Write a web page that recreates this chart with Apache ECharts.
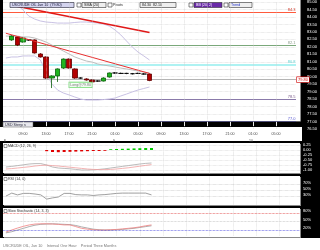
<!DOCTYPE html>
<html><head><meta charset="utf-8">
<script src="https://cdn.jsdelivr.net/npm/echarts@6/dist/echarts.min.js"></script>
<style>html,body{margin:0;padding:0;background:#000;overflow:hidden}#c{width:320px;height:250px}</style>
</head><body><div id="c"></div><script>
// ---------- data ----------
const hours=['06:00','07:00','08:00','09:00','10:00','11:00','12:00','13:00','14:00','15:00','16:00','17:00','18:00','19:00','20:00','21:00','22:00','23:00','00:00','01:00','02:00','03:00','04:00','05:00','06:00','07:00','08:00','09:00','10:00','11:00','12:00','13:00','14:00','15:00','16:00','17:00','18:00','19:00','20:00','21:00','22:00','23:00','00:00','01:00','02:00','03:00','04:00','05:00','06:00','07:00','08:00'];
const labelHours=['01:00','05:00','09:00','13:00','17:00','21:00'];
const dateSlots=[0,19,43];
const dateTexts=['8','9','10'];
const candleStart=1;
const cOpen =[82.46,82.66,82.32,82.46,82.46,81.52,81.32,79.91,80.05,80.58,81.18,80.52,79.91,79.85,79.78,79.71,79.71,79.98,80.25,80.22,80.22,80.20,80.22,80.18,80.18];
const cClose=[82.72,82.12,82.59,82.46,81.59,81.32,79.91,80.05,80.52,81.18,80.58,79.91,79.91,79.78,79.65,79.71,79.91,80.25,80.25,80.22,80.22,80.20,80.22,80.18,79.75];
const cLow  =[82.40,82.05,82.28,82.40,81.55,81.28,79.85,79.24,79.65,80.52,80.54,79.86,79.86,79.74,79.60,79.66,79.68,79.94,80.20,80.18,80.17,80.15,80.18,80.14,79.70];
const cHigh =[82.78,82.72,82.64,82.52,82.50,81.58,81.36,80.10,80.56,81.22,81.22,80.56,79.96,79.90,79.82,79.76,79.96,80.28,80.30,80.27,80.26,80.25,80.27,80.24,80.22];
const trend1=[[1,84.78],[25,82.96]];
const trend2=[[0,82.91],[25,80.22]];
const upperStart=2;
const upperBand=[84.80,84.46,84.06,83.86,83.73,83.66,83.63,83.59,83.59,83.59,83.63,83.66,83.66,83.63,83.59,83.53,83.39,83.13,82.80,82.39,81.99,81.65,81.39,81.12];
const midBand=[82.72,82.72,82.72,82.66,82.66,82.59,82.46,82.32,82.12,81.92,81.72,81.52,81.32,81.18,81.05,80.98,80.85,80.78,80.72,80.65,80.58,80.52,80.45,80.38,80.31,80.25];
const lowerBand=[81.25,81.32,81.32,81.39,81.39,81.39,81.12,80.31,79.51,79.11,78.91,78.78,78.64,78.51,78.44,78.44,78.44,78.47,78.51,78.57,78.71,78.84,78.98,79.11,79.21,79.31];
const levelValues=[84.3,82.1,80.8,79.8,78.5,77.0];
const levelTexts=['84.3','82.1','80.8','79.80','78.5','77.0'];
const longSlot=13, longValue=79.45, longText='Long@79.80';
const macdLine=[-0.85,-0.82,-0.78,-0.74,-0.70,-0.68,-0.68,-0.75,-0.85,-0.90,-0.92,-0.94,-0.97,-1.00,-1.00,-0.99,-0.97,-0.94,-0.90,-0.86,-0.82,-0.78,-0.74,-0.70,-0.67,-0.65];
const macdSignal=[-0.95,-0.93,-0.90,-0.87,-0.84,-0.80,-0.77,-0.76,-0.78,-0.80,-0.83,-0.86,-0.89,-0.92,-0.95,-0.97,-0.98,-0.98,-0.97,-0.95,-0.92,-0.89,-0.85,-0.81,-0.77,-0.73];
const histStart=7;
const macdHist=[-0.06,-0.10,-0.11,-0.10,-0.09,-0.08,-0.07,-0.06,-0.05,-0.05,-0.04,0.04,0.05,0.06,0.07,0.08,0.09,0.10,0.10];
const rsi=[32,42,36,41,41,39,36,22,26,29,41,41,37,36,36,34,36,37,39,41,42,42,42,42,42,36];
const rsiLevels=[70,50,30];
const stochK=[13,20,27,33,38,41,42,42,41,40,38,38,32,26,23,21,20,20,21,22,24,26,28,31,35,38];
const stochD=[10,14,20,26,32,37,40,41,42,41,40,39,36,31,27,23,21,20,20,21,22,24,26,29,32,35];
const stochLevels=[80,50,20];
const macdTicks={min:-1.25,max:0.5,step:0.25};
const priceTicks={min:76.5,max:85,step:0.5};

// ---------- build ----------
const FONT='Liberation Sans, Arial, sans-serif';
const candleData=cOpen.map((o,i)=>{
  const item={value:[candleStart+i,o,cClose[i],cLow[i],cHigh[i]]};
  if(o===cClose[i]) item.itemStyle={color:'#000',borderColor:'#000',color0:'#000',borderColor0:'#000'};
  return item;
});
const fromStart=(arr,s)=>arr.map((v,i)=>[s+i,v]);
const isLabel=(i,v)=>labelHours.indexOf(v)>=0;
const levelStyles=[
 {c:'#ff5a3c',w:1,lc:'#d03020'},{c:'#7aa87a',w:1,lc:'#8a9a8a'},{c:'#aef2f2',w:2,lc:'#5cd0d0'},
 {c:'#b4b4b4',w:1,lc:'#d00000'},{c:'#8a7aaa',w:1,lc:'#7a5a8a'},{c:'#9a9af0',w:2,lc:'#5a5ad0'}];
const levelData=levelValues.map((v,i)=>{
  const s=levelStyles[i];
  const d={yAxis:v,lineStyle:{color:s.c,width:s.w,type:'solid'},
    label:{show:true,formatter:levelTexts[i],position:'insideEndTop',distance:0.5,color:s.lc,fontSize:4,fontFamily:FONT}};
  if(i===3){d.label={show:true,formatter:levelTexts[i],position:'end',distance:1,color:'#d00000',backgroundColor:'#fff',borderColor:'#d00000',borderWidth:0.6,padding:[0.5,1],fontSize:4,fontFamily:FONT};}
  return d;
});
const gridL=3,gridW=297;
const dotted={color:'#cfcfcf',type:'dotted',width:0.6};
function subX(gi){return {gridIndex:gi,type:'category',data:hours,boundaryGap:true,
  axisLine:{show:false},axisTick:{show:false},axisLabel:{show:false},
  splitLine:{show:true,interval:isLabel,alignWithLabel:true,lineStyle:dotted}};}
function pctAxis(gi,levels){return {gridIndex:gi,type:'value',position:'right',min:0,max:100,interval:10,
  axisLine:{show:false},axisTick:{show:false},splitLine:{show:false},
  axisLabel:{color:'#fff',fontSize:4,fontFamily:FONT,margin:3,verticalAlign:'bottom',
    formatter:v=>levels.indexOf(v)>=0?v+'%':''}};}
const option={
 animation:false,backgroundColor:'#000',
 grid:[
  {left:gridL,top:2,width:gridW,height:127},
  {left:gridL,top:140,width:gridW,height:35},
  {left:gridL,top:175.7,width:gridW,height:30},
  {left:gridL,top:207.3,width:gridW,height:28.4}],
 xAxis:[
  {gridIndex:0,type:'category',data:hours,boundaryGap:true,offset:-3,z:60,
   axisLine:{show:false},
   axisTick:{show:true,inside:true,length:4,interval:isLabel,alignWithLabel:true,lineStyle:{color:'#e8e8e8',type:'dashed',width:1}},
   axisLabel:{interval:isLabel,color:'#444',fontSize:3.6,fontFamily:FONT,margin:6},
   splitLine:{show:true,interval:isLabel,alignWithLabel:true,lineStyle:dotted}},
  {gridIndex:0,type:'category',data:hours,boundaryGap:true,position:'bottom',offset:2,z:60,
   axisLine:{show:false},axisTick:{show:false},splitLine:{show:false},
   axisLabel:{interval:(i)=>dateSlots.indexOf(i)>=0,formatter:(v,i)=>dateTexts[dateSlots.indexOf(i)]||'',color:'#444',fontSize:3.6,fontFamily:FONT,margin:8,align:'right'}},
  subX(1),subX(2),subX(3)],
 yAxis:[
  {gridIndex:0,type:'value',position:'right',min:priceTicks.min,max:priceTicks.max,interval:priceTicks.step,
   axisLine:{show:false},axisTick:{show:false},
   axisLabel:{color:'#fff',fontSize:4,fontFamily:FONT,margin:11,formatter:v=>v.toFixed(2)},
   splitLine:{show:true,lineStyle:dotted}},
  {gridIndex:1,type:'value',position:'right',min:macdTicks.min,max:macdTicks.max,interval:macdTicks.step,
   axisLine:{show:false},axisTick:{show:false},
   axisLabel:{color:'#fff',fontSize:4,fontFamily:FONT,margin:3,showMinLabel:false,showMaxLabel:false,formatter:v=>v.toFixed(2)},
   splitLine:{show:true,lineStyle:dotted}},
  pctAxis(2,rsiLevels),pctAxis(3,stochLevels)],
 series:[
  {type:'line',xAxisIndex:0,yAxisIndex:0,data:fromStart(upperBand,upperStart),symbol:'none',lineStyle:{color:'#c9c2e4',width:1},z:3},
  {type:'line',xAxisIndex:0,yAxisIndex:0,data:fromStart(midBand,0),symbol:'none',lineStyle:{color:'#bdbdbd',width:1},z:3},
  {type:'line',xAxisIndex:0,yAxisIndex:0,data:fromStart(lowerBand,0),symbol:'none',lineStyle:{color:'#c9c2e4',width:1},z:3},
  {type:'candlestick',xAxisIndex:0,yAxisIndex:0,data:candleData,encode:{x:0,y:[1,2,3,4]},barWidth:5,z:5,
   itemStyle:{color:'#1fb51f',color0:'#b40000',borderColor:'#0b5e0b',borderColor0:'#5e0000',borderWidth:0.8},
   markLine:{silent:true,symbol:'none',data:levelData,z:2}},
  {type:'line',xAxisIndex:0,yAxisIndex:0,data:trend1,symbol:'none',lineStyle:{color:'#e01818',width:1.6},z:6},
  {type:'line',xAxisIndex:0,yAxisIndex:0,data:trend2,symbol:'none',lineStyle:{color:'#e83030',width:1},z:6},
  {type:'scatter',xAxisIndex:0,yAxisIndex:0,data:[[longSlot,longValue]],symbolSize:0,z:7,
   label:{show:true,position:'inside',formatter:longText,color:'#555',fontSize:3.6,fontFamily:FONT,backgroundColor:'#f4fff4',borderColor:'#33cc33',borderWidth:0.6,padding:[0.5,1]}},
  {type:'bar',xAxisIndex:2,yAxisIndex:1,data:fromStart(macdHist,histStart),barWidth:3,
   itemStyle:{color:p=>p.value[1]<0?'#e00000':'#00cc00'}},
  {type:'line',xAxisIndex:2,yAxisIndex:1,data:fromStart(macdLine,0),symbol:'none',lineStyle:{color:'#aaaaaa',width:0.8}},
  {type:'line',xAxisIndex:2,yAxisIndex:1,data:fromStart(macdSignal,0),symbol:'none',lineStyle:{color:'#f0a0a0',width:0.8}},
  {type:'line',xAxisIndex:3,yAxisIndex:2,data:fromStart(rsi,0),symbol:'none',lineStyle:{color:'#888',width:0.8},
   markLine:{silent:true,symbol:'none',label:{show:false},lineStyle:{color:'#bbb',type:'dotted',width:0.6},data:rsiLevels.map(v=>({yAxis:v}))}},
  {type:'line',xAxisIndex:4,yAxisIndex:3,data:fromStart(stochD,0),symbol:'none',lineStyle:{color:'#999',width:0.8},
   markLine:{silent:true,symbol:'none',label:{show:false},data:stochLevels.map((v,i)=>({yAxis:v,lineStyle:{type:'dotted',width:0.7,color:['#e04040','#bbbbbb','#4040e0'][i]}}))}},
  {type:'line',xAxisIndex:4,yAxisIndex:3,data:fromStart(stochK,0),symbol:'none',lineStyle:{color:'#f08080',width:0.8}}
 ],
 graphic:{elements:[
  {type:'rect',z:-10,shape:{x:4,y:0,width:297,height:122},style:{fill:'#8a8a8a'}},
  {type:'rect',z:-9,shape:{x:3,y:0,width:297,height:121.5},style:{fill:'#fff'}},
  {type:'rect',z:-10,shape:{x:4,y:144,width:297,height:30},style:{fill:'#8a8a8a'}},
  {type:'rect',z:-9,shape:{x:3,y:143,width:297,height:30},style:{fill:'#fff'}},
  {type:'rect',z:-10,shape:{x:4,y:177,width:297,height:29},style:{fill:'#8a8a8a'}},
  {type:'rect',z:-9,shape:{x:3,y:176,width:297,height:29},style:{fill:'#fff'}},
  {type:'rect',z:-10,shape:{x:4,y:209,width:297,height:29},style:{fill:'#8a8a8a'}},
  {type:'rect',z:-9,shape:{x:3,y:208,width:297,height:29},style:{fill:'#fff'}},
  {type:'rect',z:50,shape:{x:0,y:121.5,width:301,height:5.5},style:{fill:'#000'}},
  {type:'rect',z:50,shape:{x:0,y:127,width:302,height:14},style:{fill:'#fff'}},
  {type:'rect',z:50,shape:{x:0,y:141,width:302,height:2},style:{fill:'#000'}},
  {type:'rect',z:50,shape:{x:0,y:174,width:302,height:2},style:{fill:'#000'}},
  {type:'rect',z:50,shape:{x:0,y:206,width:302,height:2},style:{fill:'#000'}},
  {type:'rect',z:50,shape:{x:0,y:238,width:320,height:12},style:{fill:'#fff'}},
  {type:'rect',z:55,shape:{x:3,y:122,width:30,height:5},style:{fill:'#e8e8ee',stroke:'#555',lineWidth:0.5}},
  {type:'text',z:56,style:{x:5,y:124.5,text:'USD Steryus',fontSize:3.6,fontFamily:FONT,fill:'#223',verticalAlign:'middle'}},
  {type:'rect',z:55,shape:{x:10,y:2.5,width:64,height:5},style:{fill:'#d4d4ee',stroke:'#223',lineWidth:0.6}},
  {type:'text',z:56,style:{x:12,y:5,text:'USCRUDE OIL Jun 10  (79.80)',fontSize:3.6,fontFamily:FONT,fill:'#113',verticalAlign:'middle'}},
  {type:'rect',z:55,shape:{x:77,y:3,width:4,height:4},style:{fill:'#fff',stroke:'#333',lineWidth:0.6}},
  {type:'rect',z:55,shape:{x:82,y:2.5,width:24,height:5},style:{fill:'#eee',stroke:'#333',lineWidth:0.6}},
  {type:'text',z:56,style:{x:84,y:5,text:'SMA (20)',fontSize:3.6,fontFamily:FONT,fill:'#222',verticalAlign:'middle'}},
  {type:'rect',z:55,shape:{x:108,y:3,width:4,height:4},style:{fill:'#fff',stroke:'#333',lineWidth:0.6}},
  {type:'text',z:56,style:{x:113,y:5,text:'Pivots',fontSize:3.6,fontFamily:FONT,fill:'#222',verticalAlign:'middle'}},
  {type:'rect',z:55,shape:{x:140,y:2.5,width:36,height:5},style:{fill:'#eee',stroke:'#333',lineWidth:0.6}},
  {type:'text',z:56,style:{x:142,y:5,text:'84.30  82.10',fontSize:3.6,fontFamily:FONT,fill:'#222',verticalAlign:'middle'}},
  {type:'rect',z:55,shape:{x:189,y:3,width:4,height:4},style:{fill:'#fff',stroke:'#333',lineWidth:0.6}},
  {type:'rect',z:55,shape:{x:194,y:2.5,width:28,height:5},style:{fill:'#6a2aa8',stroke:'#333',lineWidth:0.6}},
  {type:'text',z:56,style:{x:196,y:5,text:'BB (20, 2)',fontSize:3.6,fontFamily:FONT,fill:'#fff',verticalAlign:'middle'}},
  {type:'rect',z:55,shape:{x:224,y:3,width:4,height:4},style:{fill:'#fff',stroke:'#333',lineWidth:0.6}},
  {type:'rect',z:55,shape:{x:229,y:2.5,width:23,height:5},style:{fill:'#eee',stroke:'#333',lineWidth:0.6}},
  {type:'text',z:56,style:{x:231,y:5,text:'Trend',fontSize:3.6,fontFamily:FONT,fill:'#2233cc',verticalAlign:'middle'}},
  {type:'rect',z:55,shape:{x:4,y:144.5,width:3,height:3},style:{fill:'#fff',stroke:'#333',lineWidth:0.5}},
  {type:'text',z:56,style:{x:8,y:146,text:'MACD (12, 26, 9)',fontSize:3.6,fontFamily:FONT,fill:'#333',verticalAlign:'middle'}},
  {type:'rect',z:55,shape:{x:4,y:177.5,width:3,height:3},style:{fill:'#fff',stroke:'#333',lineWidth:0.5}},
  {type:'text',z:56,style:{x:8,y:179,text:'RSI (14, 0)',fontSize:3.6,fontFamily:FONT,fill:'#333',verticalAlign:'middle'}},
  {type:'rect',z:55,shape:{x:4,y:209.5,width:3,height:3},style:{fill:'#fff',stroke:'#333',lineWidth:0.5}},
  {type:'text',z:56,style:{x:8,y:211,text:'Slow Stochastic (14, 3, 3)',fontSize:3.6,fontFamily:FONT,fill:'#333',verticalAlign:'middle'}},
  {type:'text',z:56,style:{x:3,y:245.5,text:'USCRUDE OIL, Jun 10    Interval One Hour    Period Three Months',fontSize:3.8,fontFamily:FONT,fill:'#777',verticalAlign:'middle'}}
 ]}
};
const chart=echarts.init(document.getElementById('c'),null,{renderer:'canvas',width:320,height:250});
chart.setOption(option);
</script></body></html>
